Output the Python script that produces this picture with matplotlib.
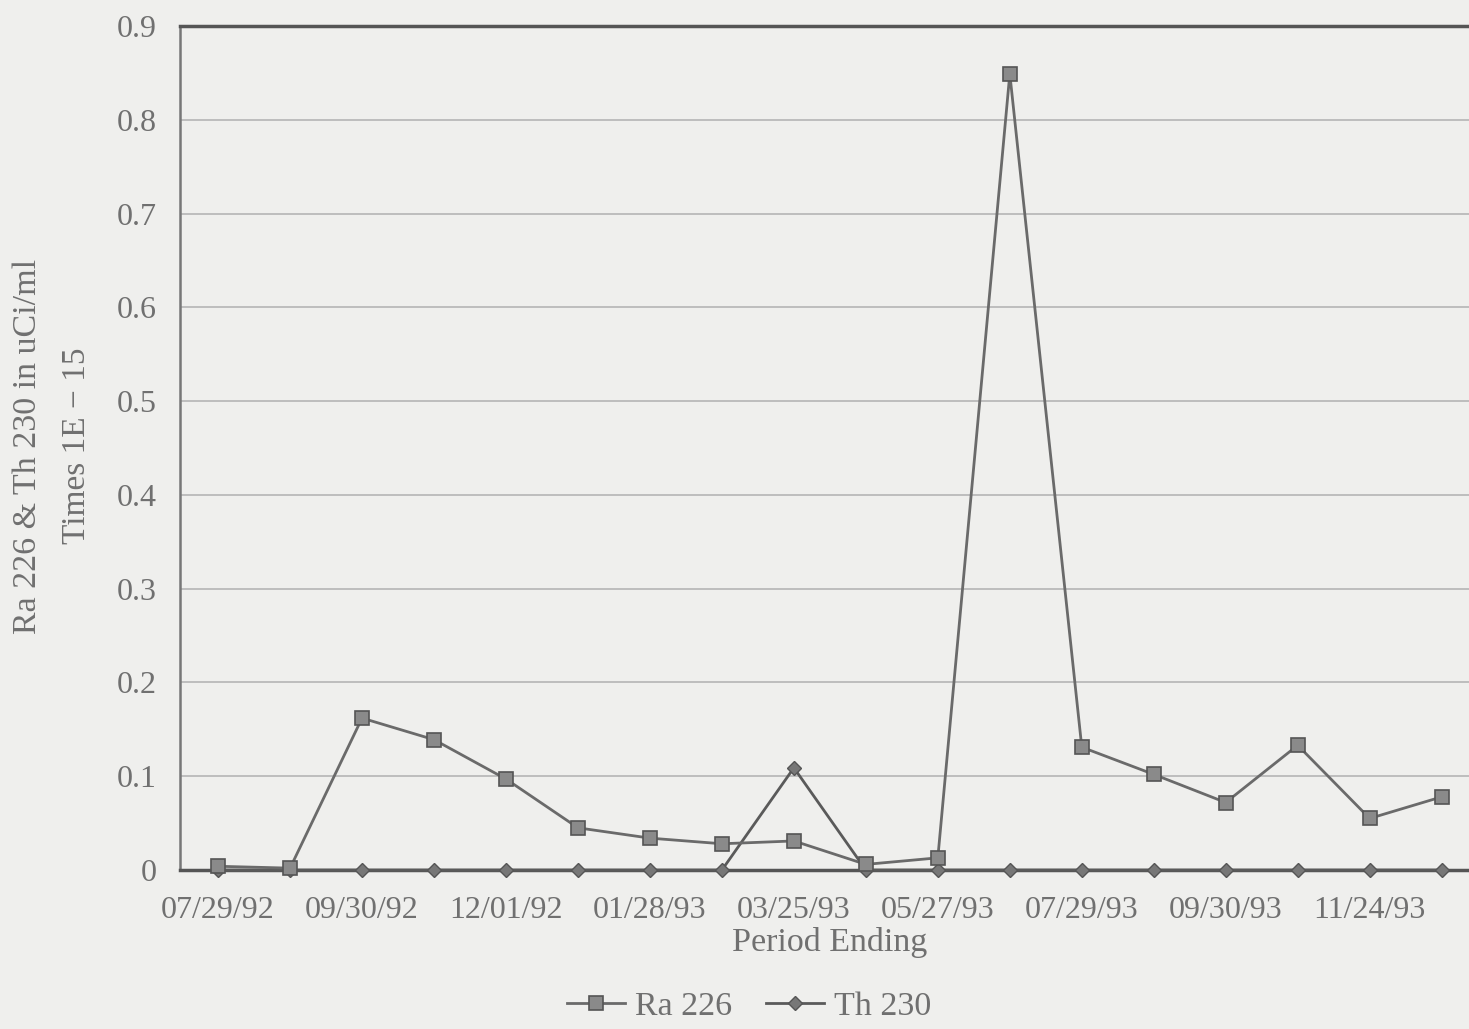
import matplotlib.pyplot as plt
import numpy as np

# period ending dates (every other one gets a tick label)
dates = ["07/29/92", "08/31/92", "09/30/92", "10/30/92", "12/01/92", "12/30/92",
         "01/28/93", "02/26/93", "03/25/93", "04/28/93", "05/27/93", "06/29/93",
         "07/29/93", "08/31/93", "09/30/93", "10/28/93", "11/24/93", "12/29/93"]
ra226 = [0.004, 0.002, 0.162, 0.139, 0.097, 0.045, 0.034, 0.028, 0.031, 0.006,
         0.013, 0.849, 0.131, 0.102, 0.072, 0.133, 0.055, 0.078]
th230 = [0.0, 0.0, 0.0, 0.0, 0.0, 0.0, 0.0, 0.0, 0.109, 0.0,
         0.0, 0.0, 0.0, 0.0, 0.0, 0.0, 0.0, 0.0]
yticks = [0, 0.1, 0.2, 0.3, 0.4, 0.5, 0.6, 0.7, 0.8, 0.9]
ytick_labels = ["0", "0.1", "0.2", "0.3", "0.4", "0.5", "0.6", "0.7", "0.8", "0.9"]

bg = "#efefed"
ink = "#6a6a6a"
txt = "#707070"
plt.rcParams["font.family"] = ["Liberation Serif", "DejaVu Serif"]

fig = plt.figure(figsize=(14.69, 10.29), dpi=100, facecolor=bg)
ax = fig.add_axes([0.1225, 0.1545, 0.8775, 0.8202], facecolor=bg)

x = np.arange(len(dates))
ax.plot(x, ra226, color=ink, lw=2, marker="s", ms=10, mfc="#8a8a8a", mec="#555555",
        mew=1.2, label="Ra 226", zorder=4, clip_on=False)
ax.plot(x, th230, color="#5a5a5a", lw=2, marker="D", ms=7, mfc="#777777", mec="#555555",
        label="Th 230", zorder=3, clip_on=False)

ax.set_xlim(-0.53, 17.38)
ax.set_ylim(0, 0.9)
ax.set_yticks(yticks)
ax.set_yticklabels(ytick_labels)
ax.set_xticks(x[::2])
ax.set_xticklabels(dates[::2])
ax.tick_params(axis="both", length=0, labelsize=23, colors=txt)
ax.tick_params(axis="x", pad=19)
ax.tick_params(axis="y", pad=17)

for v in yticks[1:-1]:
    ax.axhline(v, color="#b9b9b9", lw=1.3, zorder=1)

ax.spines["right"].set_visible(False)
ax.spines["top"].set_color("#555555")
ax.spines["top"].set_linewidth(2.5)
ax.spines["left"].set_color("#777777")
ax.spines["left"].set_linewidth(1.8)
ax.spines["bottom"].set_color("#555555")
ax.spines["bottom"].set_linewidth(2.5)

fig.text(0.019, 0.566, "Ra 226 & Th 230 in uCi/ml", rotation=90, ha="center", va="center",
         fontsize=24.5, color=txt)
fig.text(0.052, 0.567, "Times 1E \u2212 15", rotation=90, ha="center", va="center",
         fontsize=24, color=txt)
fig.text(0.565, 0.084, "Period Ending", ha="center", va="center", fontsize=24.5, color=txt)

leg = fig.legend(loc="center", bbox_to_anchor=(0.51, 0.022), ncol=2, frameon=False,
                 fontsize=24.5, labelcolor=txt, handlelength=1.7, columnspacing=1.0,
                 handletextpad=0.3)

fig.savefig("out.png", dpi=100, facecolor=bg)
